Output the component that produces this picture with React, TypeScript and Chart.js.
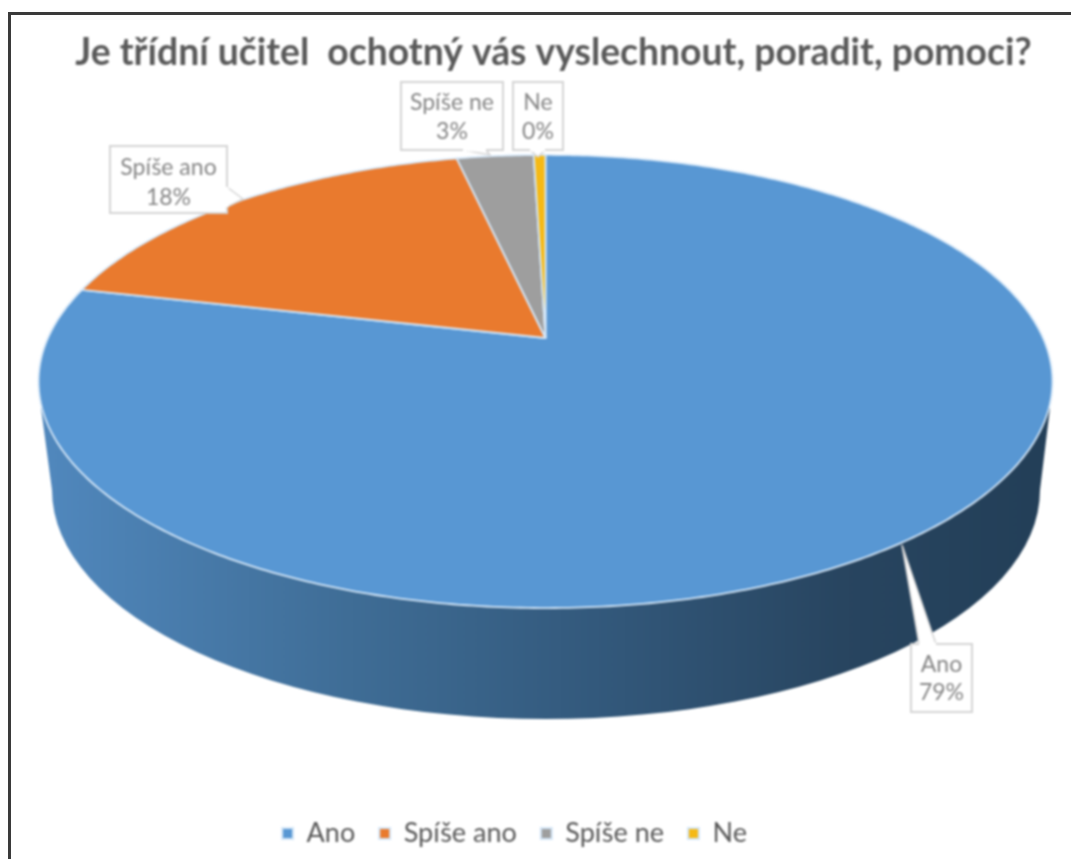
import React, { useEffect, useRef } from "react";
import { Chart, registerables } from "chart.js";

Chart.register(...registerables);

const categories = ["Ano", "Spíše ano", "Spíše ne", "Ne"];
const seriesValues = [78.7, 17.9, 2.95, 0.45];
const sliceColors = ["#5897d3", "#e97a2e", "#9e9e9e", "#f5b915"];
const titleText = "Je třídní učitel  ochotný vás vyslechnout, poradit, pomoci?";

// Perspective disc geometry
const DISC = { cx: 545.5, apexY: 338, a: 153.3, c: -0.192, d: 497.5 };
const BASE = { cx: 546, cy: 490, rx: 494, ry: 229, lx: 41, rx2: 1050, topY: 408 };

// Callout boxes, in category order: [left, top, right, bottom], pointer polygon
const calloutBoxes = [
  { box: [911, 644, 972, 712], ptr: [[919, 644], [902, 545], [936, 644]], lines: [665, 693] },
  { box: [110, 146, 227, 213], ptr: [[227, 187], [243, 199], [227, 207]], lines: [168, 198] },
  { box: [401, 82, 503, 150], ptr: [[463, 150], [490, 155], [486, 150]], lines: [103, 132] },
  { box: [513, 82, 563, 150], ptr: [[530, 150], [538, 157], [545, 150]], lines: [103, 132] },
];

const project = (u: number, v: number): [number, number] => {
  const w = 1 + DISC.c * v;
  return [DISC.cx + (DISC.d * u) / w, (DISC.a * v + DISC.apexY) / w];
};

const disc3d = {
  id: "disc3d",
  afterLayout(chart: any) {
    chart.titleBlock.left += 18;
    chart.titleBlock.right += 18;
    chart.legend.left -= 21;
    chart.legend.right -= 21;
  },
  beforeDatasetDraw(chart: any, args: any) {
    const ctx: CanvasRenderingContext2D = chart.ctx;
    const meta = chart.getDatasetMeta(args.index);
    // side wall
    const g = ctx.createLinearGradient(BASE.cx - BASE.rx, 0, BASE.cx + BASE.rx, 0);
    g.addColorStop(0, "#5087bc");
    g.addColorStop(0.3, "#3f6d96");
    g.addColorStop(0.55, "#33597c");
    g.addColorStop(0.8, "#284560");
    g.addColorStop(1, "#233f58");
    ctx.save();
    ctx.beginPath();
    ctx.moveTo(BASE.lx, BASE.topY);
    ctx.lineTo(BASE.cx - BASE.rx, BASE.cy);
    ctx.ellipse(BASE.cx, BASE.cy, BASE.rx, BASE.ry, 0, Math.PI, 0, true);
    ctx.lineTo(BASE.rx2, BASE.topY);
    ctx.closePath();
    ctx.fillStyle = g;
    ctx.fill();
    // top face: the library's arc elements, seen in perspective
    meta.data.forEach((arc: any) => {
      ctx.beginPath();
      ctx.moveTo(...project(0, 0));
      const n = Math.max(2, Math.ceil((arc.endAngle - arc.startAngle) * 90));
      for (let i = 0; i <= n; i++) {
        const t = arc.startAngle + ((arc.endAngle - arc.startAngle) * i) / n;
        ctx.lineTo(...project(Math.cos(t), Math.sin(t)));
      }
      ctx.closePath();
      ctx.fillStyle = arc.options.backgroundColor;
      ctx.fill();
      ctx.lineWidth = 1.8;
      ctx.lineJoin = "round";
      ctx.strokeStyle = arc.options.borderColor;
      ctx.stroke();
    });
    ctx.restore();
    return false;
  },
  afterDatasetsDraw(chart: any) {
    const ctx: CanvasRenderingContext2D = chart.ctx;
    ctx.save();
    ctx.font = '23px Lato, sans-serif';
    ctx.textAlign = "center";
    ctx.textBaseline = "middle";
    categories.forEach((name, i) => {
      const { box, ptr, lines } = calloutBoxes[i];
      const [l, t, r, b] = box;
      ctx.lineWidth = 2;
      ctx.strokeStyle = "#d4d4d4";
      ctx.fillStyle = "#ffffff";
      ctx.beginPath();
      ctx.rect(l, t, r - l, b - t);
      ctx.fill();
      ctx.stroke();
      ctx.beginPath();
      ptr.forEach(([x, y], k) => (k ? ctx.lineTo(x, y) : ctx.moveTo(x, y)));
      ctx.fill();
      ctx.lineWidth = 1.5;
      ctx.stroke();
      // hide the box edge under the pointer base
      ctx.beginPath();
      ctx.moveTo(ptr[0][0], ptr[0][1]);
      ctx.lineTo(ptr[2][0], ptr[2][1]);
      ctx.lineWidth = 3;
      ctx.strokeStyle = "#ffffff";
      ctx.stroke();
      ctx.fillStyle = "#868686";
      const cx = (l + r) / 2;
      ctx.fillText(name, cx, lines[0]);
      ctx.fillText(`${Math.round(seriesValues[i])}%`, cx, lines[1]);
    });
    ctx.restore();
  },
};

export default function App() {
  const ref = useRef<HTMLCanvasElement>(null);
  useEffect(() => {
    const chart = new Chart(ref.current as HTMLCanvasElement, {
      type: "pie",
      data: {
        labels: categories,
        datasets: [
          {
            data: seriesValues,
            backgroundColor: sliceColors,
            borderColor: "#d4e6f7",
          },
        ],
      },
      options: {
        responsive: false,
        animation: false,
        layout: { padding: { top: 31, bottom: 2, left: 0, right: 0 } },
        plugins: {
          title: {
            display: true,
            text: titleText,
            color: "#595959",
            font: { family: "Lato, sans-serif", size: 37.3, weight: "bold" },
            padding: { top: 0, bottom: 10 },
          },
          legend: {
            position: "bottom",
            labels: {
              boxWidth: 11,
              boxHeight: 11,
              padding: 24,
              color: "#595959",
              font: { family: "Lato, sans-serif", size: 27 },
            },
          },
          tooltip: { enabled: false },
        },
      },
      plugins: [disc3d],
    } as any);
    return () => chart.destroy();
  }, []);
  return (
    <div style={{ position: "absolute", left: 0, top: 0, width: 1071, height: 859, background: "#fff", overflow: "hidden" }}>
      <canvas ref={ref} width={1071} height={859} style={{ display: "block", filter: "blur(0.9px)" }} />
      <div style={{ position: "absolute", left: 8, top: 12, width: 1080, height: 880, border: "3px solid #3a3a3a", boxSizing: "border-box", filter: "blur(0.5px)" }} />
    </div>
  );
}
